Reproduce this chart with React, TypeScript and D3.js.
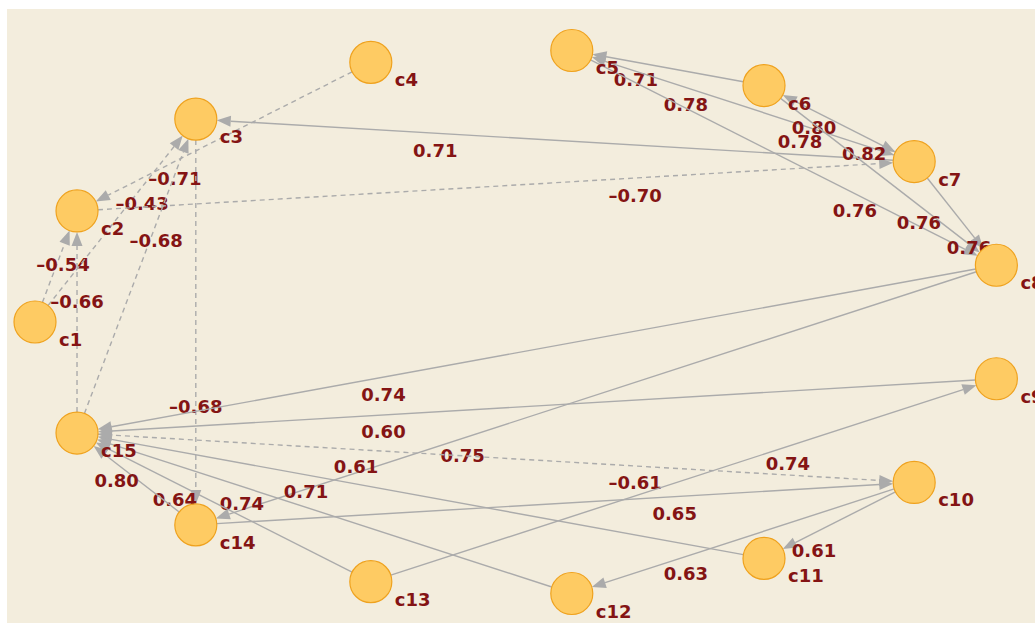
import React, { useEffect, useRef } from "react";
import * as d3 from "d3";

// nodes, in circle order (c1 sits on the far left, then clockwise)
const nodeNames = ["c1", "c2", "c3", "c4", "c5", "c6", "c7", "c8", "c9", "c10", "c11", "c12", "c13", "c14", "c15"];

// directed edges: from -> to, with weight (negative = dashed)
const edgeFrom = ["c1", "c1", "c4", "c15", "c15", "c3", "c2", "c7", "c6", "c7", "c5", "c7", "c6", "c5", "c6", "c7", "c8", "c9", "c8", "c15", "c10", "c13", "c14", "c10", "c10", "c11", "c12", "c13", "c14"];
const edgeTo = ["c2", "c3", "c2", "c2", "c3", "c14", "c7", "c3", "c5", "c5", "c7", "c6", "c7", "c8", "c8", "c8", "c15", "c15", "c14", "c10", "c15", "c9", "c10", "c11", "c12", "c15", "c15", "c15", "c15"];
const edgeWeight = [-0.54, -0.43, -0.71, -0.66, -0.68, -0.68, -0.7, 0.71, 0.71, 0.78, 0.78, 0.8, 0.82, 0.76, 0.76, 0.76, 0.74, 0.6, 0.75, -0.61, 0.61, 0.74, 0.65, 0.61, 0.63, 0.71, 0.74, 0.64, 0.8];

const W = 1035;
const H = 623;

export default function App() {
  const ref = useRef<SVGSVGElement>(null);

  useEffect(() => {
    const svg = d3.select(ref.current);
    svg.selectAll("*").remove();

    svg
      .append("rect")
      .attr("x", 7)
      .attr("y", 9)
      .attr("width", W - 7)
      .attr("height", H - 9)
      .attr("fill", "#F3EDDD");

    // circle layout: index -> angle -> ellipse position
    const angle = d3.scaleLinear().domain([0, nodeNames.length]).range([Math.PI, -Math.PI]);
    const x = d3.scaleLinear().domain([-1, 1]).range([35, 1007]);
    const y = d3.scaleLinear().domain([-1, 1]).range([595, 49]);

    const pos: Record<string, [number, number]> = {};
    nodeNames.forEach((n, i) => {
      const a = angle(i);
      pos[n] = [x(Math.cos(a)), y(Math.sin(a))];
    });

    const R = 21;
    const arrowLen = 14;
    const arrowHalf = 5.5;
    const fmt = d3.format(".2f");
    const edges = edgeFrom.map((f, i) => ({ from: f, to: edgeTo[i], w: edgeWeight[i] }));
    const drawn = new Set<string>();

    const eg = svg
      .selectAll("g.edge")
      .data(edges)
      .enter()
      .append("g")
      .attr("class", "edge");

    eg.each(function (d) {
      const g = d3.select(this);
      const [sx, sy] = pos[d.from];
      const [tx, ty] = pos[d.to];
      const len = Math.hypot(tx - sx, ty - sy);
      const ux = (tx - sx) / len;
      const uy = (ty - sy) / len;
      const tipX = tx - ux * R;
      const tipY = ty - uy * R;
      const bx = tipX - ux * arrowLen;
      const by = tipY - uy * arrowLen;

      // a reciprocal pair shares one line (the first one drawn)
      const key = [d.from, d.to].sort().join("-");
      if (!drawn.has(key)) {
        drawn.add(key);
        g.append("line")
          .attr("x1", sx + ux * R)
          .attr("y1", sy + uy * R)
          .attr("x2", bx)
          .attr("y2", by)
          .attr("stroke", "#ABABAB")
          .attr("stroke-width", 1.4)
          .attr("stroke-dasharray", d.w < 0 ? "5,4" : null);
      }

      g.append("path")
        .attr(
          "d",
          d3.line()([
            [tipX, tipY],
            [bx - uy * arrowHalf, by + ux * arrowHalf],
            [bx + uy * arrowHalf, by - ux * arrowHalf],
          ]) + "Z"
        )
        .attr("fill", "#ABABAB");

      // weight label, two thirds along the edge, just under it
      g.append("text")
        .attr("x", sx + ((tx - sx) * 2) / 3)
        .attr("y", sy + ((ty - sy) * 2) / 3 + 17)
        .attr("text-anchor", "middle")
        .attr("dominant-baseline", "central")
        .attr("font-family", "DejaVu Sans, Verdana, sans-serif")
        .attr("font-weight", "bold")
        .attr("font-size", 18)
        .attr("fill", "#841414")
        .text(fmt(d.w).replace("\u2212", "\u2013"));
    });

    const ng = svg
      .selectAll("g.node")
      .data(nodeNames)
      .enter()
      .append("g")
      .attr("class", "node")
      .attr("transform", (d) => `translate(${pos[d][0]},${pos[d][1]})`);

    ng.append("circle").attr("r", R).attr("fill", "#FECB63").attr("stroke", "#EFA21E").attr("stroke-width", 1.2);

    ng.append("text")
      .attr("x", 24)
      .attr("y", 24)
      .attr("font-family", "DejaVu Sans, Verdana, sans-serif")
      .attr("font-weight", "bold")
      .attr("font-size", 18)
      .attr("fill", "#841414")
      .text((d) => d);
  }, []);

  return <svg ref={ref} width={W} height={H} style={{ position: "absolute", left: 0, top: 0 }} />;
}
